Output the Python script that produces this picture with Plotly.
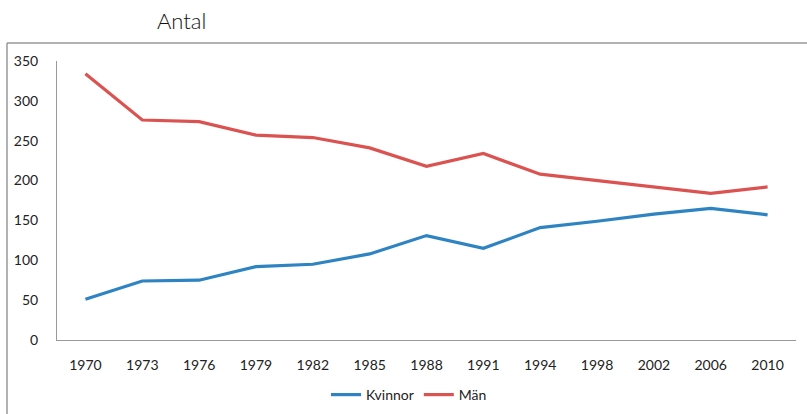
import plotly.graph_objects as go

years = ["1970", "1973", "1976", "1979", "1982", "1985", "1988", "1991", "1994", "1998", "2002", "2006", "2010"]
kvinnor = [51, 74, 75, 92, 95, 108, 131, 115, 141, 149, 158, 165, 157]
man = [334, 276, 274, 257, 254, 241, 218, 234, 208, 200, 191, 184, 192]
y_ticks = [0, 50, 100, 150, 200, 250, 300, 350]

W, H = 807, 414
L, R, T, B = 57, 11, 61, 74
pw, ph = W - L - R, H - T - B

def px(x):
    return (x - L) / pw

def py(y):
    return (H - B - y) / ph

fig = go.Figure()
fig.add_trace(go.Scatter(x=years, y=kvinnor, name="Kvinnor", mode="lines",
                         line=dict(color="#2E83C2", width=3.2)))
fig.add_trace(go.Scatter(x=years, y=man, name="Män", mode="lines",
                         line=dict(color="#DB5350", width=3.2)))

font = "Lato, 'Noto Sans', sans-serif"
fig.update_layout(
    width=W, height=H,
    margin=dict(l=L, r=R, t=T, b=B, autoexpand=False),
    paper_bgcolor="white", plot_bgcolor="white",
    font=dict(family=font, size=14, color="#222"),
    showlegend=True,
    legend=dict(orientation="h", x=px(326), xanchor="left", y=py(395), yanchor="middle",
                font=dict(size=14, color="#222"), itemwidth=30, tracegroupgap=0),
    xaxis=dict(type="category", range=[-0.5, len(years) - 0.5], showgrid=False, showline=True,
               linecolor="#999", linewidth=1, automargin=False,
               ticks="", ticklabelstandoff=12, tickfont=dict(size=14)),
    yaxis=dict(range=[0, 350], tickvals=y_ticks, showgrid=False, showline=True,
               linecolor="#999", linewidth=1, ticks="", ticklabelstandoff=15, automargin=False,
               zeroline=False, tickfont=dict(size=14)),
    shapes=[
        dict(type="line", xref="paper", yref="paper", x0=px(7), x1=px(812), y0=py(43), y1=py(43),
             line=dict(color="#999", width=1.5)),
        dict(type="line", xref="paper", yref="paper", x0=px(7), x1=px(7), y0=py(43), y1=py(420),
             line=dict(color="#999", width=1.5)),
    ],
    annotations=[
        dict(text="Antal", xref="paper", yref="paper", x=px(155), y=py(20), xanchor="left",
             yanchor="middle", showarrow=False,
             font=dict(size=22, color="#111", family=font, weight=300)),
    ],
)

fig.write_html("out.html", config={"displayModeBar": False},
               post_script="document.body.style.margin='0';document.body.style.overflow='hidden';")
